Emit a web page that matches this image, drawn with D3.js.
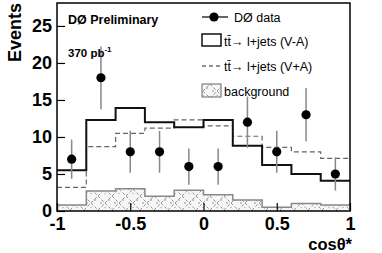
<!DOCTYPE html>
<html>
<head>
<meta charset="utf-8">
<script src="https://cdn.jsdelivr.net/npm/d3@7"></script>
<style>
  body { margin: 0; background: #fff; }
  svg { display: block; font-family: "Liberation Sans", Arial, sans-serif; }
</style>
</head>
<body>
<div id="viz"></div>
<script>
// bin lower edges, width 0.2
var binLow = [-1, -0.8, -0.6, -0.4, -0.2, 0, 0.2, 0.4, 0.6, 0.8];
var binCenter = [-0.9, -0.7, -0.5, -0.3, -0.1, 0.1, 0.3, 0.5, 0.7, 0.9];

var dataVals = [7, 18, 8, 8, 6, 6, 12, 8, 13, 5];
var dataErr = [2.65, 4.24, 2.83, 2.83, 2.45, 2.45, 3.46, 2.83, 3.6, 2.24];

var vaVals = [5.5, 12.3, 13.9, 12.0, 11.3, 12.3, 8.8, 6.2, 5.0, 4.1];
var vpaVals = [3.2, 8.7, 10.5, 11.2, 12.3, 11.5, 10.1, 8.6, 8.0, 7.1];
var bkgVals = [0.8, 2.7, 3.0, 2.0, 2.8, 2.2, 1.5, 0.5, 1.0, 0.8];

var xMajor = [-1, -0.5, 0, 0.5, 1];
var yMajor = [0, 5, 10, 15, 20, 25];

var W = 382, H = 253;
var margin = {left: 57, right: 32, top: 3, bottom: 42};

var svg = d3.select("#viz").append("svg")
    .attr("width", W)
    .attr("height", H);

var x = d3.scaleLinear().domain([-1, 1]).range([margin.left, W - margin.right]);
var y = d3.scaleLinear().domain([0, 28.1]).range([H - margin.bottom, margin.top]);

// hatch pattern for background
var defs = svg.append("defs");
var pat = defs.append("pattern")
    .attr("id", "hatch")
    .attr("patternUnits", "userSpaceOnUse")
    .attr("width", 14).attr("height", 14);
pat.append("rect").attr("width", 14).attr("height", 14).attr("fill", "#f6f6f6");
pat.append("path").attr("d", "M0,14 L14,0 M0,0 L14,14")
    .attr("stroke", "#8a8a8a").attr("stroke-width", 0.9).attr("stroke-dasharray", "3,2");
pat.append("circle").attr("cx", 3).attr("cy", 7).attr("r", 0.8).attr("fill", "#888");
pat.append("circle").attr("cx", 11).attr("cy", 4).attr("r", 0.8).attr("fill", "#888");
pat.append("circle").attr("cx", 7).attr("cy", 11.5).attr("r", 0.7).attr("fill", "#aaa");

function stepPts(vals) {
    var pts = binLow.map(function(b, i) { return [b, vals[i]]; });
    pts.push([1, vals[vals.length - 1]]);
    return pts;
}

var stepLine = d3.line()
    .x(function(d) { return x(d[0]); })
    .y(function(d) { return y(d[1]); })
    .curve(d3.curveStepAfter);

var stepArea = d3.area()
    .x(function(d) { return x(d[0]); })
    .y0(y(0))
    .y1(function(d) { return y(d[1]); })
    .curve(d3.curveStepAfter);

// background
svg.append("path")
    .attr("d", stepArea(stepPts(bkgVals)))
    .attr("fill", "url(#hatch)");
svg.append("path")
    .attr("d", stepLine(stepPts(bkgVals)))
    .attr("fill", "none")
    .attr("stroke", "#888")
    .attr("stroke-width", 1.5);

// V+A dashed
svg.append("path")
    .attr("d", stepLine(stepPts(vpaVals)))
    .attr("fill", "none")
    .attr("stroke", "#666")
    .attr("stroke-width", 1.2)
    .attr("stroke-dasharray", "5,3");

// V-A solid
svg.append("path")
    .attr("d", stepLine(stepPts(vaVals)))
    .attr("fill", "none")
    .attr("stroke", "#111")
    .attr("stroke-width", 2);

// data points
var pts = svg.append("g");
pts.selectAll("line")
    .data(binCenter)
    .enter().append("line")
    .attr("x1", function(d) { return x(d); })
    .attr("x2", function(d) { return x(d); })
    .attr("y1", function(d, i) { return y(dataVals[i] - dataErr[i]); })
    .attr("y2", function(d, i) { return y(dataVals[i] + dataErr[i]); })
    .attr("stroke", "#888")
    .attr("stroke-width", 1.5);
pts.selectAll("circle")
    .data(binCenter)
    .enter().append("circle")
    .attr("cx", function(d) { return x(d); })
    .attr("cy", function(d, i) { return y(dataVals[i]); })
    .attr("r", 4.6)
    .attr("fill", "#000");

// axes
var gx = svg.append("g").attr("transform", "translate(0," + y(0) + ")");
gx.call(d3.axisBottom(x).tickValues(d3.range(-10, 11).map(function(d) { return d / 10; }))
    .tickSize(-4).tickFormat(""));
gx.call(d3.axisBottom(x).tickValues(xMajor).tickSize(-8).tickPadding(6)
    .tickFormat(function(d) { return d3.format("")(d).replace("\u2212", "-"); }));

var gy = svg.append("g").attr("transform", "translate(" + x(-1) + ",0)");
gy.call(d3.axisLeft(y).tickValues(d3.range(0, 29)).tickSize(-4).tickFormat(""));
gy.call(d3.axisLeft(y).tickValues(yMajor).tickSize(-8).tickPadding(5));

svg.selectAll(".domain").remove();
svg.selectAll(".tick line").attr("stroke", "#000").attr("stroke-width", 1.2);
svg.selectAll(".tick text")
    .attr("font-family", "Liberation Sans, Arial, sans-serif")
    .attr("font-size", 18).attr("font-weight", "bold").attr("fill", "#000");

// frame
svg.append("rect")
    .attr("x", x(-1)).attr("y", y(28.1))
    .attr("width", x(1) - x(-1)).attr("height", y(0) - y(28.1))
    .attr("fill", "none").attr("stroke", "#000").attr("stroke-width", 1.5);

// titles
svg.append("text")
    .attr("transform", "translate(21,3) rotate(-90)")
    .attr("text-anchor", "end")
    .attr("font-size", 18).attr("font-weight", "bold")
    .text("Events");

svg.append("text")
    .attr("x", 352).attr("y", 250)
    .attr("text-anchor", "end")
    .attr("font-size", 16.5).attr("font-weight", "bold")
    .text("cos\u03b8*");

svg.append("text")
    .attr("x", 68).attr("y", 24)
    .attr("font-size", 12.5).attr("font-weight", "bold")
    .text("D\u00d8 Preliminary");

var lum = svg.append("text")
    .attr("x", 68).attr("y", 57)
    .attr("font-size", 11.5).attr("font-weight", "bold");
lum.append("tspan").text("370 pb");
lum.append("tspan").attr("dy", -5).attr("font-size", 8).text("-1");

// legend
var lg = svg.append("g").attr("font-size", 12.5);
var lx = 202, tx = 224;
lg.append("line").attr("x1", lx).attr("x2", 228).attr("y1", 17).attr("y2", 17)
    .attr("stroke", "#000").attr("stroke-width", 1.2);
lg.append("circle").attr("cx", 214).attr("cy", 17).attr("r", 4.6).attr("fill", "#000");
lg.append("text").attr("x", 234).attr("y", 21.5).text("D\u00d8 data");

lg.append("rect").attr("x", lx).attr("y", 34).attr("width", 19).attr("height", 12)
    .attr("fill", "none").attr("stroke", "#111").attr("stroke-width", 1.5);
lg.append("text").attr("x", tx).attr("y", 45.5).text("t\u0074\u0304\u2192 l+jets (V-A)");

lg.append("line").attr("x1", lx).attr("x2", 221).attr("y1", 66).attr("y2", 66)
    .attr("stroke", "#222").attr("stroke-width", 1.2).attr("stroke-dasharray", "4,3");
lg.append("text").attr("x", tx).attr("y", 71).text("t\u0074\u0304\u2192 l+jets (V+A)");

lg.append("rect").attr("x", lx).attr("y", 84).attr("width", 19).attr("height", 13)
    .attr("fill", "url(#hatch)").attr("stroke", "#666").attr("stroke-width", 1);
lg.append("text").attr("x", tx).attr("y", 95.5).text("background");
</script>
</body>
</html>
